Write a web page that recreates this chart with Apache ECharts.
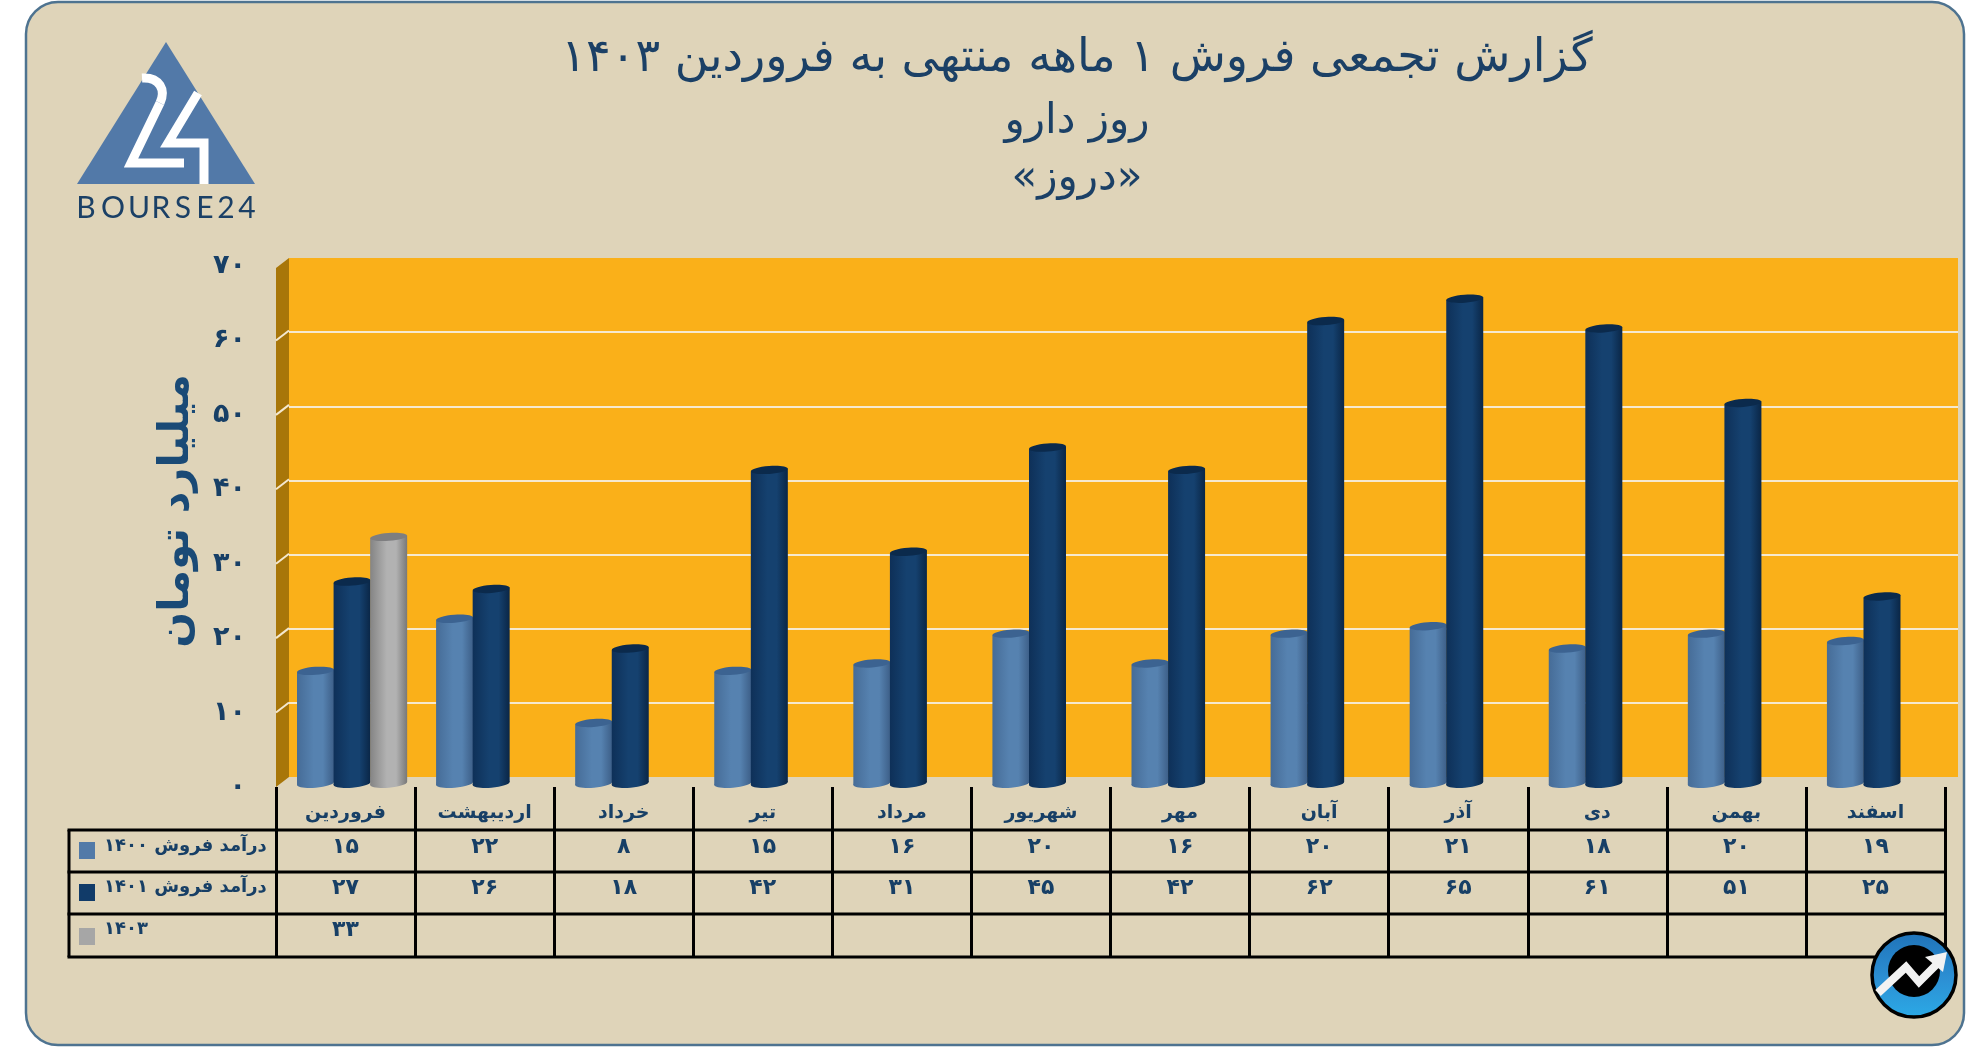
<!DOCTYPE html>
<html><head><meta charset="utf-8">
<style>html,body{margin:0;padding:0;background:#fff}#c{width:1986px;height:1047px}</style>
<script src="https://cdn.jsdelivr.net/npm/echarts@6/dist/echarts.min.js"></script>
</head><body><div id="c"></div>
<script>
const categories = ['فروردین','اردیبهشت','خرداد','تیر','مرداد','شهریور','مهر','آبان','آذر','دی','بهمن','اسفند'];
const sales1400 = [15,22,8,15,16,20,16,20,21,18,20,19];
const sales1401 = [27,26,18,42,31,45,42,62,65,61,51,25];
const sales1403 = [33];
const rowLabels = ['درآمد فروش ۱۴۰۰','درآمد فروش ۱۴۰۱','۱۴۰۳'];
const valueTicks = [0,10,20,30,40,50,60,70];
const titleLines = ['گزارش تجمعی فروش ۱ ماهه منتهی به فروردین ۱۴۰۳','روز دارو','«دروز»'];
const yTitle = 'میلیارد تومان';

const INK = '#173F66', FONT = '"DejaVu Sans", sans-serif';
const fa = s => String(s).replace(/\d/g, d => '۰۱۲۳۴۵۶۷۸۹'[d]);
const G = echarts.graphic.LinearGradient;
const palette = [
  {key:'#527AA8', edgeL:'#466C97', mid:'#5682B0', edgeR:'#3D5F88', cap:'#3C6391'},
  {key:'#113B69', edgeL:'#0E3058', mid:'#15416F', edgeR:'#0A2646', cap:'#0B2A4C'},
  {key:'#A6A6A6', edgeL:'#848484', mid:'#B2B2B2', edgeR:'#787878', cap:'#7E7E80'}
];
const depth = [13,-10];
const rowY = [847,888,930], hLines = [830,872,914,957];
const keyY = [842,884,928];
const tableLeft = 69, tableRight = 1945, frontLeft = 276;

function cylinder(slot){
  const c = palette[slot];
  return function(params, api){
    const top = api.coord([api.value(0), api.value(1)]);
    const base = api.coord([api.value(0), 0]);
    const band = api.size([1,0])[0];
    const w = band*0.266, rx = w/2, x0 = top[0]-band/2 + band*0.151 + slot*band*0.263, x1 = x0+w, cx = x0+rx;
    const yT = top[1]-4.5, yB = base[1]-3.5, dy = 1.4, tilt = 0.075;
    const fill = () => new G(0,0,1,0,[{offset:0,color:c.edgeL},{offset:.45,color:c.mid},{offset:.7,color:c.mid},{offset:1,color:c.edgeR}]);
    return {type:'group', children:[
      {type:'ellipse', x:cx, y:yB, rotation:tilt, shape:{cx:0,cy:0,rx:rx,ry:4.2}, style:{fill:fill()}},
      {type:'polygon', shape:{points:[[x0,yT+dy],[x1,yT-dy],[x1,yB-dy],[x0,yB+dy]]}, style:{fill:fill()}},
      {type:'ellipse', x:cx, y:yT, rotation:tilt, shape:{cx:0,cy:0,rx:rx,ry:4}, style:{fill:c.cap}}
    ]};
  };
}
function barSeries(values, slot){
  return {type:'custom', xAxisIndex:0, yAxisIndex:0, z:3+slot, renderItem:cylinder(slot),
    encode:{x:0,y:1}, data:values.map((v,i)=>[i,v])};
}
function rowText(values, row){
  return {type:'custom', xAxisIndex:0, yAxisIndex:0, z:8, clip:false,
    encode:{x:0,y:1},
    renderItem(params, api){
      const p = api.coord([api.value(0), 0]);
      return {type:'text', style:{text:fa(api.value(1)), x:p[0], y:rowY[row], textAlign:'center', textVerticalAlign:'middle',
        font:'bold 22px '+FONT, fill:INK}};
    },
    data:values.map((v,i)=>[i,v])};
}
const wallSeries = {type:'custom', xAxisIndex:0, yAxisIndex:0, z:1, clip:false, encode:{x:0,y:1},
  data:valueTicks.map((v,i)=>[0,v]),
  renderItem(params, api){
    const x = frontLeft;
    const lo = api.coord([0,0])[1], hi = api.coord([0,70])[1]+2;
    const y = api.coord([0, api.value(1)])[1];
    const kids = [];
    if (params.dataIndex === 0) kids.push({type:'polygon', shape:{points:[[x,lo],[x,hi],[x+depth[0],hi+depth[1]],[x+depth[0],lo+depth[1]]]}, style:{fill:'#A87609'}});
    if (api.value(1) > 0 && api.value(1) < 70) kids.push({type:'line', z2:5, shape:{x1:x,y1:y,x2:x+depth[0],y2:y+depth[1]}, style:{stroke:'#F4E8CF', lineWidth:2}});
    return {type:'group', children:kids};
  }};

/* graphic elements */
const gfx = [];
gfx.push({type:'rect', z:-10, shape:{x:26,y:2,width:1938,height:1043,r:32}, style:{fill:'#DFD4B9', stroke:'#4E7390', lineWidth:2.5}});
const titleY = [59,122,179], titleSize = [46,42,42];
titleLines.forEach((t,i)=>gfx.push({type:'text', z:5, style:{text:t, x:1077, y:titleY[i], textAlign:'center', textVerticalAlign:'middle', font:titleSize[i]+'px '+FONT, fill:'#1B4066'}}));
gfx.push({type:'text', z:5, x:177, y:511, rotation:Math.PI/2, style:{text:yTitle, x:0, y:0, textAlign:'center', textVerticalAlign:'middle', font:'bold 42px '+FONT, fill:'#1A4A76'}});
/* logo */
gfx.push({type:'polygon', z:5, shape:{points:[[166,42],[77,184],[255,184]]}, style:{fill:'#5279A8'}});
gfx.push({type:'bezierCurve', z:6, shape:{x1:142,y1:78,cpx1:160,cpy1:77,cpx2:166,cpy2:90,x2:160,y2:103}, style:{fill:null, stroke:'#fff', lineWidth:9}});
gfx.push({type:'polyline', z:6, shape:{points:[[160,103],[131,163],[184,163]]}, style:{fill:null, stroke:'#fff', lineWidth:9, lineJoin:'miter'}});
gfx.push({type:'polyline', z:6, shape:{points:[[198,93],[168,143],[204,143],[204,184]]}, style:{fill:null, stroke:'#fff', lineWidth:9, lineJoin:'miter'}});
[['B',86],['O',113],['U',139],['R',161],['S',183],['E',205],['2',226],['4',247]].forEach(([ch,x])=>
  gfx.push({type:'text', z:6, style:{text:ch, x:x, y:208, textAlign:'center', textVerticalAlign:'middle', font:'30px Lato, sans-serif', fill:'#1B4066'}}));
/* table frame */
hLines.forEach(y=>gfx.push({type:'line', z:4, shape:{x1:tableLeft-1.5,y1:y,x2:tableRight+1.5,y2:y}, style:{stroke:'#000', lineWidth:3}}));
gfx.push({type:'line', z:4, shape:{x1:tableLeft,y1:hLines[0],x2:tableLeft,y2:hLines[3]}, style:{stroke:'#000', lineWidth:3}});
rowLabels.forEach((t,i)=>{
  gfx.push({type:'rect', z:5, shape:{x:79,y:keyY[i],width:16,height:17}, style:{fill:palette[i].key}});
  gfx.push({type:'text', z:5, style:{text:t, x:104, y:rowY[i]-1, textAlign:'left', textVerticalAlign:'middle', font:'bold 18px '+FONT, fill:INK}});
});
/* corner badge */
gfx.push({type:'circle', z:6, shape:{cx:1914,cy:975,r:42}, style:{stroke:'#000', lineWidth:3.5,
  fill:new echarts.graphic.LinearGradient(0,0,0,1,[{offset:0,color:'#1F72B8'},{offset:.55,color:'#2C90D4'},{offset:1,color:'#2BAAE6'}])}});
gfx.push({type:'circle', z:6, shape:{cx:1914,cy:971,r:26}, style:{fill:'#000'}});
gfx.push({type:'polyline', z:7, shape:{points:[[1878,993],[1906,967],[1919,982],[1938,963]]}, style:{fill:null, stroke:'#F2F2F2', lineWidth:8, lineJoin:'miter'}});
gfx.push({type:'polygon', z:7, shape:{points:[[1947,952],[1925,957],[1943,972]]}, style:{fill:'#F2F2F2'}});

const chart = echarts.init(document.getElementById('c'), null, {renderer:'canvas'});
chart.setOption({
  animation:false,
  backgroundColor:'#ffffff',
  grid:[
    {left:276, top:266, width:1669, height:521, containLabel:false},
    {left:289, top:258, width:1669, height:519, show:true, backgroundColor:'#FAB019', borderWidth:0}
  ],
  xAxis:[
    {type:'category', gridIndex:0, data:categories, boundaryGap:true,
      axisLine:{show:false},
      axisTick:{show:true, alignWithLabel:false, length:170, lineStyle:{color:'#000', width:3}},
      axisLabel:{interval:0, margin:17, color:INK, fontFamily:'DejaVu Sans', fontWeight:'bold', fontSize:19},
      splitLine:{show:false}},
    {type:'category', gridIndex:1, data:categories, axisLine:{show:false}, axisTick:{show:false}, axisLabel:{show:false}, splitLine:{show:false}}
  ],
  yAxis:[
    {type:'value', gridIndex:0, min:0, max:70, interval:10,
      axisLine:{show:false}, axisTick:{show:false}, splitLine:{show:false},
      axisLabel:{margin:30, color:INK, fontFamily:'DejaVu Sans', fontWeight:'bold', fontSize:27, formatter:v=>fa(v)}},
    {type:'value', gridIndex:1, min:0, max:70, interval:10,
      axisLine:{show:false}, axisTick:{show:false}, axisLabel:{show:false},
      splitLine:{show:true, showMinLine:false, showMaxLine:false, lineStyle:{color:'#F6E9CF', width:2}}}
  ],
  series:[
    wallSeries,
    barSeries(sales1400,0), barSeries(sales1401,1), barSeries(sales1403,2),
    rowText(sales1400,0), rowText(sales1401,1), rowText(sales1403,2)
  ],
  graphic:{elements:gfx}
});
</script></body></html>
